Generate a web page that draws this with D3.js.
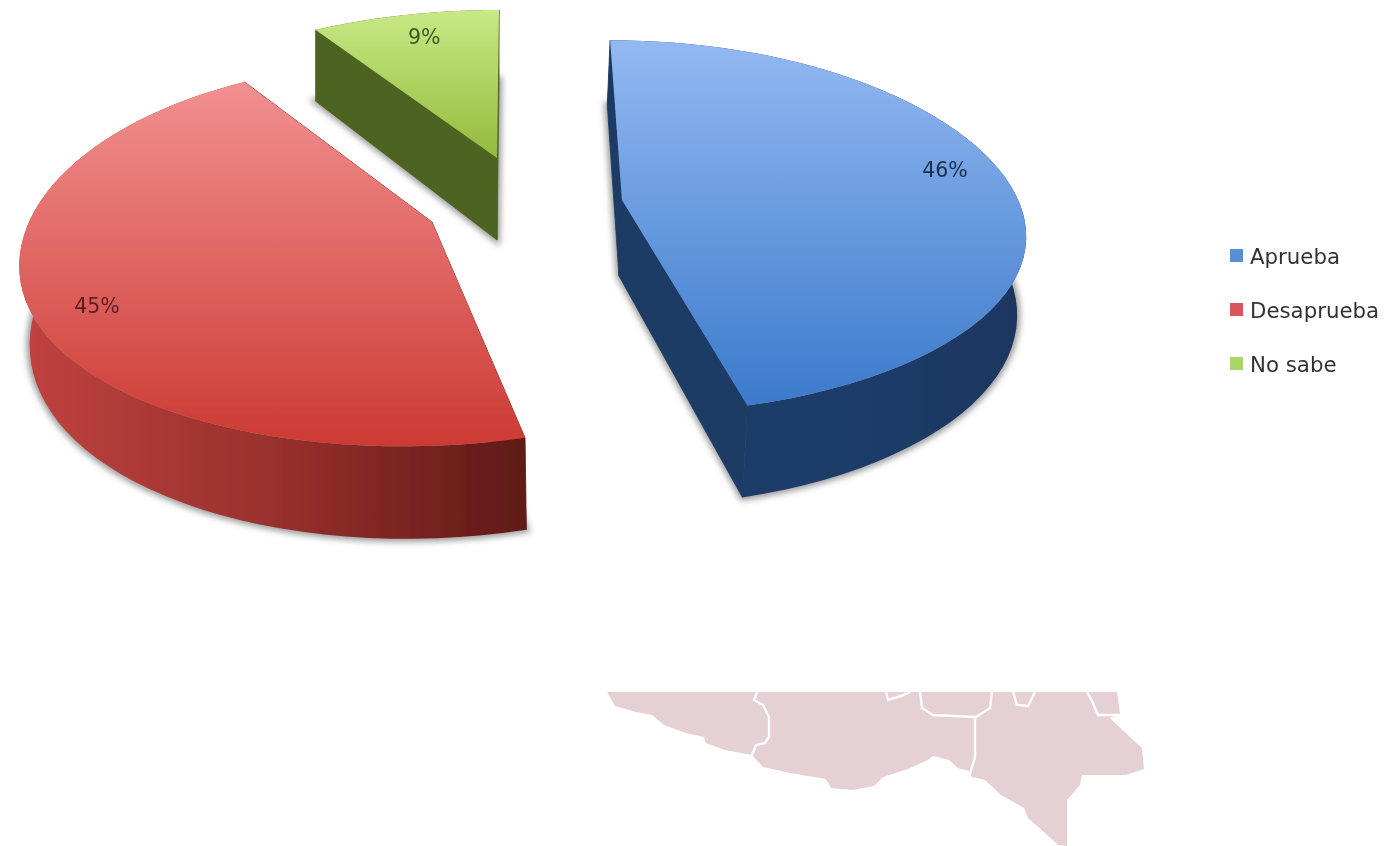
<!DOCTYPE html>
<html><head><meta charset="utf-8">
<script src="https://cdn.jsdelivr.net/npm/d3@7"></script>
<style>html,body{margin:0;background:#fff;overflow:hidden}svg{display:block}text{font-family:"DejaVu Sans",sans-serif}</style>
</head><body><svg id="c" width="1387" height="846"></svg>
<script>
const categories = ["Aprueba", "Desaprueba", "No sabe"];
const values = [46, 45, 9];
const topColors = [["#93b9f2", "#3c7acb"], ["#f29090", "#cc3a33"], ["#c8e986", "#93bb3c"]];
const wallColors = ["#1c3a65", "#7a2320", "#4d6420"];
const rimColors = [["#1c3963", "#1e3d6b", "#1b3660"], ["#c0433f", "#98302d", "#601a18"], ["#4d6420", "#4d6420", "#4d6420"]];
const swatchColors = ["#5a8fd6", "#d9555a", "#a9d66b"];
const labelColors = ["#1e2e50", "#5c1c22", "#3d5a20"];
const apexes = [[622, 200], [432, 222], [497, 158]];
const xScales = [0.983, 1.0, 0.975];
const skewBack = [-14, 0, 2.4];
const skewFront = [-5.4, 24, 0];
const yBack = [1.03, 1.045, 0.955];
const yFront = [0.962, 1.01, 1];
const floorScale = [0.985, 0.982, 1];
const floorShift = [-3, 3, 0];
const depths = [76, 76, 82];
const labelNudge = [[0, -11], [2, 18], [6, 2]];
const mapOutline = [[607,692],[615,706],[636,712],[652,715],[664,725],[686,733],[704,737],[706,743],[725,750],[752,755],[763,767],[790,773],[826,779],[831,788],[852,790],[874,786],[883,777],[908,769],[928,760],[933,756],[949,760],[958,768],[969,771],[972,777],[985,780],[1001,795],[1024,808],[1028,818],[1044,832],[1058,845],[1067,846],[1067,800],[1080,785],[1082,775],[1126,775],[1144,769],[1142,748],[1115,723],[1110,718],[1120,714],[1117,692]];
const mapBorders = [
 [[757,692],[754,700],[763,705],[769,717],[769,737],[765,743],[756,745],[752,755]],
 [[975,718],[975,757],[969,777]],
 [[920,692],[922,708],[933,715],[976,717],[990,708],[992,692]],
 [[886,692],[888,700],[901,696],[910,692]],
 [[1013,692],[1017,705],[1028,706],[1035,692]],
 [[1087,692],[1092,701],[1098,715],[1120,715]]
];

const svg = d3.select("#c");
const defs = svg.append("defs");
defs.append("filter").attr("id","soft").append("feGaussianBlur").attr("stdDeviation",0.7);
defs.append("filter").attr("id","shadow").attr("x","-10%").attr("y","-10%").attr("width","120%").attr("height","120%")
  .append("feGaussianBlur").attr("stdDeviation",3.2);
const grad = (id, cols, x2, y2) => {
  const g = defs.append("linearGradient").attr("id",id).attr("x1",0).attr("y1",0).attr("x2",x2).attr("y2",y2);
  cols.forEach((c,i)=>g.append("stop").attr("offset",i/(cols.length-1)).attr("stop-color",c));
};
topColors.forEach((c,i)=>grad("top"+i,c,0,1));
rimColors.forEach((c,i)=>grad("rim"+i,c,1,0));

// map background
const line = d3.line();
const mapG = svg.append("g");
mapG.append("path").attr("d", line(mapOutline)+"Z").attr("fill","#e5d0d4");
mapG.selectAll("path.b").data(mapBorders).join("path").attr("class","b")
  .attr("d",d=>line(d)).attr("fill","none").attr("stroke","#fff").attr("stroke-width",2.4);

// pie geometry through d3.pie and a perspective projection
const arcs = d3.pie().sort(null).value(d=>d).startAngle(0).endAngle(2*Math.PI)(values);
const Rx = 403, Ry = 182.6, k = 0.178;
const project = (i, th, r, floor) => {
  const X = r*Math.sin(th), Y = r*Math.cos(th), w = 1 + k*Y;
  const ax = apexes[i][0], ay = apexes[i][1];
  const u = (Math.cos(th)+1)/2, t = u*u*(3-2*u);
  const sk = d3.interpolateNumber(skewFront[i], skewBack[i])(t);
  const ys = d3.interpolateNumber(yFront[i], yBack[i])(t);
  let dx = (Rx*xScales[i]*X + sk*Y)/w, dy = -Ry*ys*Y/w;
  if (floor) { dx = dx*floorScale[i] + floorShift[i]; dy += depths[i]/w; }
  return [ax+dx, ay+dy];
};
const arcPts = (i, a, floor) => d3.range(0,61).map(n => {
  const th = a.startAngle + (a.endAngle-a.startAngle)*n/60;
  return project(i, th, 1, floor);
});
const sector = (i, a, floor) => line([project(i,0,0,floor), ...arcPts(i,a,floor)])+"Z";
const wall = (i, th) => line([project(i,th,0,false),project(i,th,1,false),project(i,th,1,true),project(i,th,0,true)])+"Z";

const root = svg.append("g").attr("filter","url(#soft)");
const shadows = root.append("g").attr("filter","url(#shadow)");
arcs.forEach((a,i)=>{
  shadows.append("path").attr("d",sector(i,a,true)).attr("fill","#777").attr("stroke","#777")
    .attr("stroke-width",6).attr("opacity",0.75);
});
arcs.forEach((a,i)=>{
  const g = root.append("g");
  g.append("path").attr("d",wall(i,a.startAngle)).attr("fill",wallColors[i]).attr("stroke",wallColors[i]).attr("stroke-width",0.8);
  g.append("path").attr("d",wall(i,a.endAngle)).attr("fill",wallColors[i]).attr("stroke",wallColors[i]).attr("stroke-width",0.8);
  g.append("path").attr("d",line([...arcPts(i,a,false),...arcPts(i,a,true).reverse()])+"Z").attr("fill",`url(#rim${i})`);
  g.append("path").attr("d",sector(i,a,false)).attr("fill",`url(#top${i})`);
  const mid = (a.startAngle+a.endAngle)/2, p = project(i,mid,0.84,false);
  root.append("text").attr("x",p[0]+labelNudge[i][0]).attr("y",p[1]+labelNudge[i][1]).attr("dy","0.35em")
    .attr("text-anchor","middle").attr("font-size",20.5).attr("fill", labelColors[i]).text(values[i]+"%");
});

// legend
const ly = d3.scalePoint().domain(categories).range([256,364]);
const leg = root.append("g").selectAll("g").data(categories).join("g").attr("transform",d=>`translate(0,${ly(d)})`);
leg.append("rect").attr("x",1230).attr("y",-7).attr("width",13).attr("height",13).attr("fill",(d,i)=>swatchColors[i]);
leg.append("text").attr("x",1250).attr("y",1).attr("dy","0.35em").attr("font-size",21.3).attr("fill","#333").text(d=>d);
</script></body></html>
